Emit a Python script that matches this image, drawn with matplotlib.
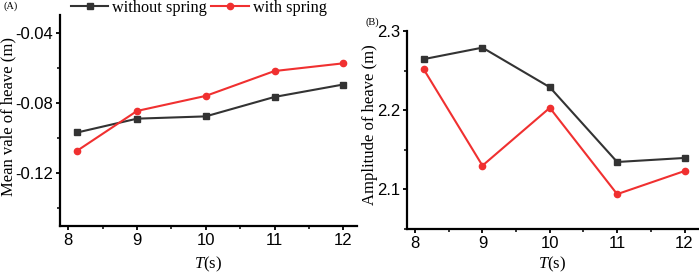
import matplotlib
matplotlib.use("Agg")
import matplotlib.pyplot as plt
from matplotlib.ticker import MultipleLocator

plt.rcParams['mathtext.fontset'] = 'custom'
plt.rcParams['mathtext.it'] = 'Liberation Serif:italic'
plt.rcParams['mathtext.rm'] = 'Liberation Serif'

T = [8.13, 9, 10, 11, 12]
mean_without = [-0.0966, -0.0887, -0.0874, -0.0763, -0.0692]
mean_with = [-0.1070, -0.0843, -0.0757, -0.0615, -0.0571]
amp_without = [2.2645, 2.279, 2.229, 2.1346, 2.1397]
amp_with = [2.2514, 2.130, 2.203, 2.094, 2.1232]
labels = ['without spring', 'with spring']

GRAY = '#333333'
RED = '#f03030'
W, H = 699, 274
fig = plt.figure(figsize=(W / 100, H / 100), dpi=100)

def px_axes(l, t, r, b):
    return fig.add_axes([l / W, 1 - b / H, (r - l) / W, (b - t) / H])

axA = px_axes(60, 15, 357, 226)
axB = px_axes(407, 31, 698, 229)

def style(ax):
    for s in ['top', 'right']:
        ax.spines[s].set_visible(False)
    for s in ['left', 'bottom']:
        ax.spines[s].set_linewidth(1.6)
    ax.tick_params(which='major', direction='out', length=3, width=1.3,
                   labelsize=12, pad=2)
    ax.tick_params(which='minor', direction='out', length=2, width=1.1)
    for lab in ax.get_xticklabels() + ax.get_yticklabels():
        lab.set_family('Liberation Sans')
    ax.set_xlim(7.88, 12.2)
    ax.xaxis.set_major_locator(MultipleLocator(1))
    ax.xaxis.set_minor_locator(MultipleLocator(0.5))
    ax.set_xlabel(r'$\mathit{T}$(s)', fontsize=12, family='Liberation Serif')

l1, = axA.plot(T, mean_without, color=GRAY, lw=1.5, marker='s', ms=4.5, label=labels[0])
l2, = axA.plot(T, mean_with, color=RED, lw=1.5, marker='o', ms=4.5, label=labels[1])
axA.set_ylim(-0.15, -0.0295)
axA.yaxis.set_minor_locator(MultipleLocator(0.02))
axA.set_yticks([-0.04, -0.08, -0.12])
axA.set_yticklabels(['-0.04', '-0.08', '-0.12'])
axA.set_ylabel('Mean vale of heave (m)', fontsize=12, family='Liberation Serif')
style(axA)
axA.xaxis.set_label_coords(0.5, -(255 - 226) / 211)
axA.yaxis.set_label_coords((16 - 60) / 297, (226 - 117) / 211)

axB.plot(T, amp_without, color=GRAY, lw=1.5, marker='s', ms=4.5)
axB.plot(T, amp_with, color=RED, lw=1.5, marker='o', ms=4.5)
axB.set_ylim(2.05, 2.3)
axB.set_yticks([2.1, 2.2, 2.3])
axB.set_yticklabels(['2.1', '2.2', '2.3'])
axB.yaxis.set_minor_locator(MultipleLocator(0.05))
axB.set_ylabel('Amplitude of heave (m)', fontsize=12, family='Liberation Serif')
style(axB)
axB.xaxis.set_label_coords(0.5, -(255 - 229) / 198)
axB.yaxis.set_label_coords((378 - 407) / 291, (229 - 125) / 198)

fig.legend(handles=[l1, l2], loc='center left', bbox_to_anchor=(71 / W, 1 - 8 / H),
           ncol=2, frameon=False, prop={'family': 'Liberation Serif', 'size': 11.7},
           handlelength=2.3, handletextpad=0.25, columnspacing=0.25,
           borderaxespad=0, borderpad=0)

fig.text(3 / W, 1 - 6 / H, '(A)', fontsize=7.5, family='Liberation Serif', va='center', ha='left')
fig.text(365 / W, 1 - 22 / H, '(B)', fontsize=7.5, family='Liberation Serif', va='center', ha='left')

fig.savefig('out.png', dpi=100)
